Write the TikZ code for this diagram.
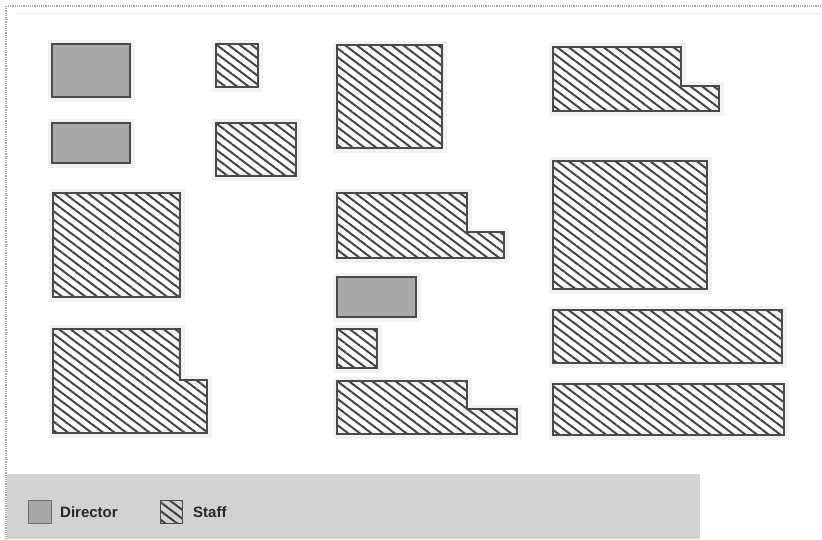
\documentclass[tikz,border=0pt]{standalone}
\usepackage{fontspec}
\setmainfont{Liberation Sans}
\usetikzlibrary{patterns.meta}
\definecolor{edgegray}{HTML}{4A4A4A}
\definecolor{dirfill}{HTML}{A9A9A9}
\definecolor{hatchgray}{HTML}{404040}
\definecolor{legendbg}{HTML}{D2D2D2}
\definecolor{halo}{HTML}{F2F2F2}
\tikzset{
  halofx/.style={draw=halo,line width=9pt,line join=miter},
  director/.style={draw=edgegray,line width=1.4pt,fill=dirfill},
  staff/.style={draw=edgegray,line width=1.4pt,fill=white,
    pattern={Lines[angle=-37,distance=7pt,line width=1.9pt]},pattern color=hatchgray},
  frame/.style={draw=gray!70,line width=1.2pt,densely dotted},
  legendtext/.style={font=\fontsize{15}{17}\selectfont\bfseries,text=black!85,anchor=west,inner sep=0pt}
}
\begin{document}
\begin{tikzpicture}[x=1pt,y=-1pt]
\useasboundingbox (0,0) rectangle (822,539);
\fill[white] (0,0) rectangle (822,539);
% frame
\draw[frame] (8,6) -- (822,6);
\draw[draw=gray!25,line width=1pt,densely dotted] (14,13) -- (822,13);
\draw[frame] (6,6) -- (6,539);
% halos
\foreach \a/\b/\c/\d in {52/44/130/97, 52/123/130/163, 216/44/258/87, 216/123/296/176,
  337/45/442/148, 53/193/180/297, 337/277/416/317, 337/329/377/368,
  553/161/707/289, 553/310/782/363, 553/384/784/435}
  {\draw[halofx] (\a,\b) rectangle (\c,\d);}
\draw[halofx] (553,47) -- (681,47) -- (681,86) -- (719,86) -- (719,111) -- (553,111) -- cycle;
\draw[halofx] (53,329) -- (180,329) -- (180,380) -- (207,380) -- (207,433) -- (53,433) -- cycle;
\draw[halofx] (337,193) -- (467,193) -- (467,232) -- (504,232) -- (504,258) -- (337,258) -- cycle;
\draw[halofx] (337,381) -- (467,381) -- (467,409) -- (517,409) -- (517,434) -- (337,434) -- cycle;
% director rooms
\draw[director] (52,44) rectangle (130,97);
\draw[director] (52,123) rectangle (130,163);
\draw[director] (337,277) rectangle (416,317);
% staff rooms
\draw[staff] (216,44) rectangle (258,87);
\draw[staff] (216,123) rectangle (296,176);
\draw[staff] (337,45) rectangle (442,148);
\draw[staff] (553,47) -- (681,47) -- (681,86) -- (719,86) -- (719,111) -- (553,111) -- cycle;
\draw[staff] (53,193) rectangle (180,297);
\draw[staff] (53,329) -- (180,329) -- (180,380) -- (207,380) -- (207,433) -- (53,433) -- cycle;
\draw[staff] (337,193) -- (467,193) -- (467,232) -- (504,232) -- (504,258) -- (337,258) -- cycle;
\draw[staff] (337,329) rectangle (377,368);
\draw[staff] (337,381) -- (467,381) -- (467,409) -- (517,409) -- (517,434) -- (337,434) -- cycle;
\draw[staff] (553,161) rectangle (707,289);
\draw[staff] (553,310) rectangle (782,363);
\draw[staff] (553,384) rectangle (784,435);
% legend
\fill[legendbg] (7,474) rectangle (700,539);
\draw[draw=edgegray!80,line width=1pt,fill=dirfill] (28,500) rectangle (51,523);
\node[legendtext] (ldir) at (60,512) {Director};
\draw[draw=edgegray,line width=1pt,fill=white,
  pattern={Lines[angle=-37,distance=7pt,line width=2pt]},pattern color=hatchgray] (160,500) rectangle (182,523);
\node[legendtext] (lstaff) at (193,512) {Staff};
\end{tikzpicture}
\end{document}
